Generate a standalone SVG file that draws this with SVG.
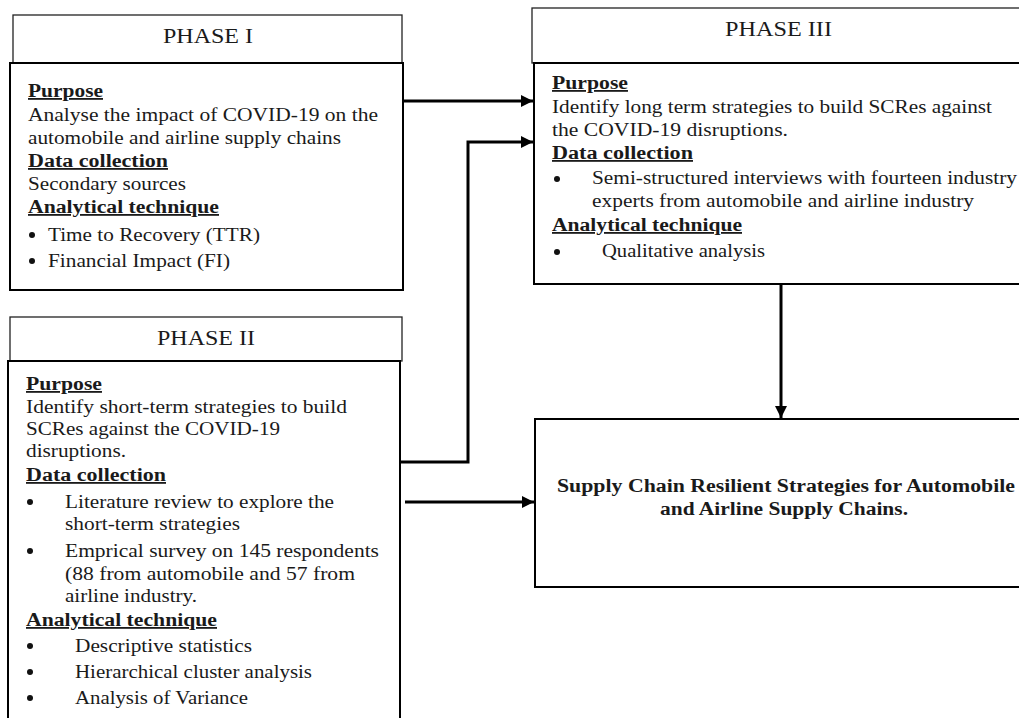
<svg xmlns="http://www.w3.org/2000/svg" width="1019" height="718" viewBox="0 0 1019 718">
<defs>
<marker id="ah" markerUnits="userSpaceOnUse" markerWidth="13" markerHeight="12" refX="12" refY="6" orient="auto">
<path d="M0,0 L12,6 L0,12 Z" fill="#000"/>
</marker>
<style>
text{font-family:"Liberation Serif","Times New Roman",serif;fill:#1a1a1a;}
.t{font-size:20px;}
.b{font-size:18px;}
.h{font-size:18px;font-weight:bold;text-decoration:underline;}
.f{font-size:18px;font-weight:bold;}
.tb{fill:#fff;stroke:#222;stroke-width:1.3;}
.bb{fill:#fff;stroke:#000;stroke-width:2;}
.c{fill:none;stroke:#000;stroke-width:3;}
.d{fill:#111;}
</style>
</defs>
<rect width="1019" height="718" fill="#fff"/>

<g id="phase1">
<rect class="tb" x="13" y="15" width="389" height="48"/>
<rect class="bb" x="10" y="63" width="393" height="227"/>
<text class="t" x="163" y="43" textLength="90" lengthAdjust="spacingAndGlyphs">PHASE I</text>
<text class="h" x="28" y="97" textLength="75" lengthAdjust="spacingAndGlyphs">Purpose</text>
<text class="b" x="28" y="121" textLength="350" lengthAdjust="spacingAndGlyphs">Analyse the impact of COVID-19 on the</text>
<text class="b" x="28" y="144" textLength="313" lengthAdjust="spacingAndGlyphs">automobile and airline supply chains</text>
<text class="h" x="28" y="167" textLength="140" lengthAdjust="spacingAndGlyphs">Data collection</text>
<text class="b" x="28" y="190" textLength="158" lengthAdjust="spacingAndGlyphs">Secondary sources</text>
<text class="h" x="28" y="213" textLength="191" lengthAdjust="spacingAndGlyphs">Analytical technique</text>
<circle class="d" cx="32" cy="235" r="3"/>
<text class="b" x="48" y="241" textLength="212" lengthAdjust="spacingAndGlyphs">Time to Recovery (TTR)</text>
<circle class="d" cx="32" cy="261" r="3"/>
<text class="b" x="48" y="267" textLength="182" lengthAdjust="spacingAndGlyphs">Financial Impact (FI)</text>
</g>

<g id="phase2">
<rect class="tb" x="10" y="317" width="392" height="44"/>
<rect class="bb" x="8" y="361" width="392" height="370"/>
<text class="t" x="157" y="345" textLength="98" lengthAdjust="spacingAndGlyphs">PHASE II</text>
<text class="h" x="26" y="390" textLength="76" lengthAdjust="spacingAndGlyphs">Purpose</text>
<text class="b" x="26" y="413" textLength="321" lengthAdjust="spacingAndGlyphs">Identify short-term strategies to build</text>
<text class="b" x="26" y="435" textLength="254" lengthAdjust="spacingAndGlyphs">SCRes against the COVID-19</text>
<text class="b" x="26" y="457" textLength="100" lengthAdjust="spacingAndGlyphs">disruptions.</text>
<text class="h" x="26" y="481" textLength="140" lengthAdjust="spacingAndGlyphs">Data collection</text>
<circle class="d" cx="30" cy="502" r="3"/>
<text class="b" x="65" y="508" textLength="269" lengthAdjust="spacingAndGlyphs">Literature review to explore the</text>
<text class="b" x="65" y="530" textLength="175" lengthAdjust="spacingAndGlyphs">short-term strategies</text>
<circle class="d" cx="30" cy="551" r="3"/>
<text class="b" x="65" y="557" textLength="314" lengthAdjust="spacingAndGlyphs">Emprical survey on 145 respondents</text>
<text class="b" x="65" y="580" textLength="290" lengthAdjust="spacingAndGlyphs">(88 from automobile and 57 from</text>
<text class="b" x="65" y="602" textLength="132" lengthAdjust="spacingAndGlyphs">airline industry.</text>
<text class="h" x="26" y="626" textLength="191" lengthAdjust="spacingAndGlyphs">Analytical technique</text>
<circle class="d" cx="30" cy="646" r="3"/>
<text class="b" x="75" y="652" textLength="177" lengthAdjust="spacingAndGlyphs">Descriptive statistics</text>
<circle class="d" cx="30" cy="672" r="3"/>
<text class="b" x="75" y="678" textLength="237" lengthAdjust="spacingAndGlyphs">Hierarchical cluster analysis</text>
<circle class="d" cx="30" cy="698" r="3"/>
<text class="b" x="75" y="704" textLength="173" lengthAdjust="spacingAndGlyphs">Analysis of Variance</text>
</g>

<g id="phase3">
<rect class="tb" x="532" y="8" width="500" height="55"/>
<rect class="bb" x="534" y="63" width="500" height="221"/>
<text class="t" x="725" y="36" textLength="107" lengthAdjust="spacingAndGlyphs">PHASE III</text>
<text class="h" x="552" y="89" textLength="76" lengthAdjust="spacingAndGlyphs">Purpose</text>
<text class="b" x="552" y="113" textLength="440" lengthAdjust="spacingAndGlyphs">Identify long term strategies to build SCRes against</text>
<text class="b" x="552" y="136" textLength="236" lengthAdjust="spacingAndGlyphs">the COVID-19 disruptions.</text>
<text class="h" x="552" y="159" textLength="141" lengthAdjust="spacingAndGlyphs">Data collection</text>
<circle class="d" cx="557" cy="179" r="3"/>
<text class="b" x="592" y="184" textLength="425" lengthAdjust="spacingAndGlyphs">Semi-structured interviews with fourteen industry</text>
<text class="b" x="592" y="207" textLength="382" lengthAdjust="spacingAndGlyphs">experts from automobile and airline industry</text>
<text class="h" x="552" y="231" textLength="190" lengthAdjust="spacingAndGlyphs">Analytical technique</text>
<circle class="d" cx="557" cy="252" r="3"/>
<text class="b" x="602" y="257" textLength="163" lengthAdjust="spacingAndGlyphs">Qualitative analysis</text>
</g>

<g id="result">
<rect class="bb" x="535" y="419" width="505" height="168"/>
<text class="f" x="557" y="492" textLength="458" lengthAdjust="spacingAndGlyphs">Supply Chain Resilient Strategies for Automobile</text>
<text class="f" x="660" y="515" textLength="248" lengthAdjust="spacingAndGlyphs">and Airline Supply Chains.</text>
</g>

<g id="connectors">
<path class="c" d="M403,101 L533,101" marker-end="url(#ah)"/>
<path class="c" d="M401,462 L468,462 L468,142 L533,142" marker-end="url(#ah)"/>
<path class="c" d="M405,502 L534,502" marker-end="url(#ah)"/>
<path class="c" d="M781,284 L781,418" marker-end="url(#ah)"/>
</g>
</svg>
